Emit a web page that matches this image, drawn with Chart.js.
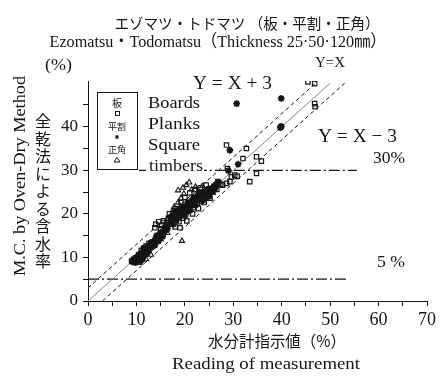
<!DOCTYPE html>
<html>
<head>
<meta charset="utf-8">
<script src="https://cdn.jsdelivr.net/npm/chart.js@4/dist/chart.umd.min.js"></script>
<style>
  html, body { margin: 0; padding: 0; background: #fff; }
  #wrap { position: relative; width: 448px; height: 378px; }
  #jpTitle {
    position: absolute; left: 35px; top: 113px;
    font-family: 'Noto Sans CJK JP', sans-serif; font-size: 16px; line-height: 16px;
    letter-spacing: 1.5px; color: #151515;
    writing-mode: vertical-rl; text-orientation: upright; white-space: nowrap;
  }
</style>
</head>
<body>
<div id="wrap"><canvas id="c" width="448" height="378"></canvas><div id="jpTitle">全乾法による含水率</div></div>
<script>
// Meter reading (x, %) vs. oven-dry moisture content (y, %)
const boards = [
  [9.0,9.2],[9.5,8.9],[10.0,9.3],[10.5,9.0],[11.0,9.4],[9.8,9.8],[10.6,10.2],[11.2,10.8],[11.0,11.6],
  [11.6,12.2],[12.2,11.8],[12.0,12.6],[12.8,12.4],[13.2,13.0],[12.6,13.2],[13.8,13.6],[14.2,14.6],
  [14.8,15.2],[15.4,15.8],
  [14.0,17.6],[14.6,18.2],[15.2,17.4],[15.6,18.4],[16.2,18.0],[16.6,19.0],[15.0,16.6],[16.0,17.2],[13.8,16.8],
  [17.0,17.6],[17.6,18.8],[18.0,17.0],[18.4,19.6],[18.8,18.2],[19.0,20.6],[19.6,19.0],[19.8,21.4],
  [20.2,20.0],[20.6,22.2],[21.0,21.0],[21.4,22.8],[21.8,21.4],[22.2,23.6],[22.6,22.2],[23.0,24.2],
  [23.4,22.8],[23.8,24.8],[24.2,23.6],[24.6,25.4],[25.0,24.4],[25.4,25.8],[25.8,25.0],[26.2,26.2],
  [26.6,25.6],[18.2,21.2],[19.2,22.6],[17.6,20.4],[16.8,20.0],[20.0,23.8],[21.0,24.8],[22.0,25.6],
  [19.0,16.8],[20.4,18.4],[21.6,20.0],[22.8,21.2],[24.0,22.6],[25.2,23.6],[23.2,26.0],[24.4,26.6],
  [26.8,27.4],[27.4,26.8],
  [27.8,26.6],[28.6,27.0],[29.3,27.4],[29.6,28.5],[30.3,28.9],[30.8,28.6],[28.8,30.4],[28.6,35.8],
  [32.7,35.0],[32.0,32.7],[34.8,33.1],[35.8,32.1],[34.8,29.3],[33.4,27.4],
  [45.4,50.3],[46.8,49.9],[46.8,45.3],[46.9,44.6]
];
const planks = [
  [9.2,9.0],[9.6,9.5],[10.2,9.2],[10.8,9.8],[11.4,10.2],[10.4,10.6],[11.0,11.0],[11.6,11.4],[11.4,12.0],
  [12.0,12.2],[12.4,12.0],[12.8,12.8],[13.2,12.4],[13.6,13.2],[14.0,13.8],[14.4,14.2],[14.8,14.6],
  [15.2,15.2],[15.6,15.6],[16.0,16.2],[16.4,16.6],[13.0,13.4],[14.2,15.0],[15.0,15.8],[15.8,16.8],
  [12.2,11.2],[9.8,8.8],
  [9.4,9.6],[10.0,10.0],[10.6,9.4],[11.2,9.6],[11.8,10.6],[12.2,11.0],[12.6,11.6],[11.8,11.8],
  [10.8,10.4],[12.4,12.6],[13.4,13.6],[13.8,12.8],[14.6,13.8],[15.4,14.8],[14.0,14.4],
  [17.2,18.0],[17.8,19.0],[18.3,18.6],[18.6,20.0],[19.2,19.6],[19.6,20.6],[20.0,21.0],[20.5,20.6],
  [20.8,21.6],[21.2,22.2],[21.6,22.0],[22.0,22.8],[22.4,23.2],[22.8,23.6],[23.2,23.4],[23.6,24.0],
  [24.0,24.6],[24.4,24.4],[24.8,25.0],[25.2,25.4],[25.6,25.8],[26.0,26.4],[26.5,26.8],[27.0,27.2],
  [18.0,20.6],[19.4,21.6],[20.6,22.6],[21.8,23.8],[23.0,25.0],[17.0,19.2],[16.6,17.6],
  [17.6,17.6],[18.8,19.2],[19.8,19.8],[20.2,21.8],[21.0,20.8],[21.4,23.0],[22.2,22.0],[22.6,24.2],
  [23.4,24.6],[23.8,23.2],[24.6,25.6],[25.0,24.0],[25.8,25.2],[26.2,25.8],[19.0,21.0],[20.4,21.2],
  [22.0,23.4],[24.2,25.2],
  [29.3,34.6],[31.0,31.4],[29.0,29.9],[30.7,45.3],[39.9,46.5],[39.7,39.8],[39.9,40.1],[39.8,39.9]
];
const squareTimbers = [
  [16.4,18.8],[17.2,19.8],[17.8,21.6],[18.6,22.6],[19.2,23.6],[19.8,24.6],[20.3,26.6],[20.9,27.2],
  [21.4,25.6],[22.2,26.2],[23.6,26.4],[19.4,13.8],[18.0,18.4],[20.0,19.4],[22.0,21.8],[24.2,23.4],
  [25.6,24.8],[12.0,9.6],[13.0,10.6],[10.8,8.8],[15.0,14.2],[16.4,15.6],[18.6,25.4],[19.6,26.0]
];
const lineEqual  = [[0,0],[50,50]];
const linePlus3  = [[0,3],[47,50]];
const lineMinus3 = [[3,0],[53,50]];
const level30    = [[10.5,30],[55.5,30]];
const level5     = [[0,5],[53.5,5]];
const xTickLabels = [0,10,20,30,40,50,60,70];
const yTickLabels = [0,10,20,30,40,50];

const toXY = arr => arr.map(([x, y]) => ({ x, y }));
const SERIF = "'Liberation Serif','DejaVu Serif','Noto Sans CJK JP',serif";
const CJK = "'Noto Sans CJK JP',sans-serif";
const INK = '#151515';

// Draws text, optionally stretched to an exact width
function txt(ctx, s, x, y, size, width, align, family) {
  ctx.save();
  ctx.font = size + 'px ' + family;
  ctx.textBaseline = 'middle';
  ctx.textAlign = align || 'left';
  const m = ctx.measureText(s).width;
  const k = width ? width / m : 1;
  ctx.translate(x, y);
  ctx.scale(k, 1);
  ctx.fillStyle = INK;
  ctx.fillText(s, 0, 0);
  ctx.restore();
}

const annotations = {
  id: 'annotations',
  afterDatasetsDraw(chart) {
    const ctx = chart.ctx;
    ctx.save();
    // legend box
    ctx.fillStyle = '#fff';
    ctx.fillRect(97, 92, 41, 78);
    ctx.strokeStyle = INK;
    ctx.lineWidth = 1;
    ctx.strokeRect(97.5, 92.5, 40, 77);
    txt(ctx, '板', 117, 103, 10, null, 'center', CJK);
    ctx.strokeRect(115.5, 111.5, 4, 4);
    txt(ctx, '平割', 117, 127, 9, null, 'center', CJK);
    ctx.beginPath();
    ctx.moveTo(115, 137); ctx.lineTo(119, 137);
    ctx.moveTo(117, 135); ctx.lineTo(117, 139);
    ctx.moveTo(115.5, 135.5); ctx.lineTo(118.5, 138.5);
    ctx.moveTo(118.5, 135.5); ctx.lineTo(115.5, 138.5);
    ctx.stroke();
    txt(ctx, '正角', 117, 150, 9, null, 'center', CJK);
    ctx.beginPath();
    ctx.moveTo(117, 157.5); ctx.lineTo(120, 162); ctx.lineTo(114, 162); ctx.closePath();
    ctx.stroke();
    // legend words, on white behind the 30 % line
    ctx.fillStyle = '#fff';
    ctx.fillRect(146, 160, 58, 14);
    txt(ctx, 'Boards', 148, 104, 16, 52, 'left', SERIF);
    txt(ctx, 'Planks', 148, 125, 16, 52, 'left', SERIF);
    txt(ctx, 'Square', 148, 146, 16, 52, 'left', SERIF);
    txt(ctx, 'timbers', 149, 167, 16, 54, 'left', SERIF);
    ctx.restore();
  },
  afterDraw(chart) {
    const ctx = chart.ctx;
    txt(ctx, 'エゾマツ・トドマツ （板・平割・正角）', 247, 23, 15, 265, 'center', CJK);
    txt(ctx, 'Ezomatsu・Todomatsu（Thickness 25·50·120㎜）', 218, 43, 17, 337, 'center', SERIF);
    txt(ctx, '(%)', 45, 66, 16, 27, 'left', SERIF);
    // rotated English axis title
    ctx.save();
    ctx.translate(21, 176);
    ctx.rotate(-Math.PI / 2);
    txt(ctx, 'M.C. by Oven-Dry Method', 0, 0, 16, 200, 'center', SERIF);
    ctx.restore();
    txt(ctx, '水分計指示値（%）', 277, 341, 16, 138, 'center', CJK);
    txt(ctx, 'Reading of measurement', 266, 365, 16, 188, 'center', SERIF);
    txt(ctx, 'Y = X + 3', 193, 84, 19, 79, 'left', SERIF);
    txt(ctx, 'Y=X', 315, 63, 15, 30, 'left', SERIF);
    txt(ctx, 'Y = X − 3', 318, 137, 19, 79, 'left', SERIF);
    txt(ctx, '30%', 373, 159, 17, 32, 'left', SERIF);
    txt(ctx, '5 %', 377, 263, 17, 28, 'left', SERIF);
  }
};

const refLine = (data, dash, width, color) => ({
  type: 'line', data: toXY(data), showLine: true, pointRadius: 0,
  borderColor: color || INK, borderWidth: width, borderDash: dash, fill: false, order: 5
});

new Chart(document.getElementById('c'), {
  type: 'scatter',
  data: {
    datasets: [
      { label: 'Boards', data: toXY(boards), pointStyle: 'rect', pointRadius: 3.1,
        borderColor: INK, backgroundColor: 'rgba(255,255,255,0)', borderWidth: 1.2, order: 1 },
      { label: 'Planks', data: toXY(planks), pointStyle: 'star', pointRadius: 3.4,
        borderColor: INK, backgroundColor: INK, borderWidth: 1.8, order: 2 },
      { label: 'Square timbers', data: toXY(squareTimbers), pointStyle: 'triangle', pointRadius: 3,
        borderColor: INK, backgroundColor: 'rgba(255,255,255,0)', borderWidth: 1.1, order: 3 },
      refLine(lineEqual, [], 0.8, '#666'),
      refLine(linePlus3, [4, 3], 1),
      refLine(lineMinus3, [4, 3], 1),
      refLine(level30, [11, 3, 2, 3], 1.2),
      refLine(level5, [11, 3, 2, 3], 1.2)
    ]
  },
  options: {
    responsive: false,
    animation: false,
    devicePixelRatio: 1,
    layout: { padding: { left: 0, right: 21, top: 81, bottom: 0 } },
    plugins: { legend: { display: false }, tooltip: { enabled: false } },
    elements: { point: { hoverRadius: 3 } },
    scales: {
      x: {
        type: 'linear', min: 0, max: 70, position: 'bottom',
        afterFit: s => { s.height = 77; },
        afterBuildTicks: s => { s.ticks = s.ticks.filter(t => t.value % 5 === 0); },
        ticks: {
          stepSize: 5, autoSkip: false, maxRotation: 0, padding: 3, color: INK,
          font: { family: SERIF, size: 18 },
          callback: v => (xTickLabels.includes(v) ? String(v) : '')
        },
        grid: { display: true, drawOnChartArea: false, drawTicks: true, tickLength: 5, tickColor: INK },
        border: { display: true, color: INK, width: 1 }
      },
      y: {
        type: 'linear', min: 0, max: 50.5,
        afterFit: s => { s.width = 88; },
        afterBuildTicks: s => { s.ticks = s.ticks.filter(t => t.value % 5 === 0); },
        ticks: {
          stepSize: 5, autoSkip: false, padding: 5, color: INK,
          font: { family: SERIF, size: 17 },
          callback: v => (yTickLabels.includes(v) ? String(v) : '')
        },
        grid: { display: true, drawOnChartArea: false, drawTicks: true, tickLength: 5, tickColor: INK },
        border: { display: true, color: INK, width: 1 }
      }
    }
  },
  plugins: [annotations]
});
</script>
</body>
</html>
